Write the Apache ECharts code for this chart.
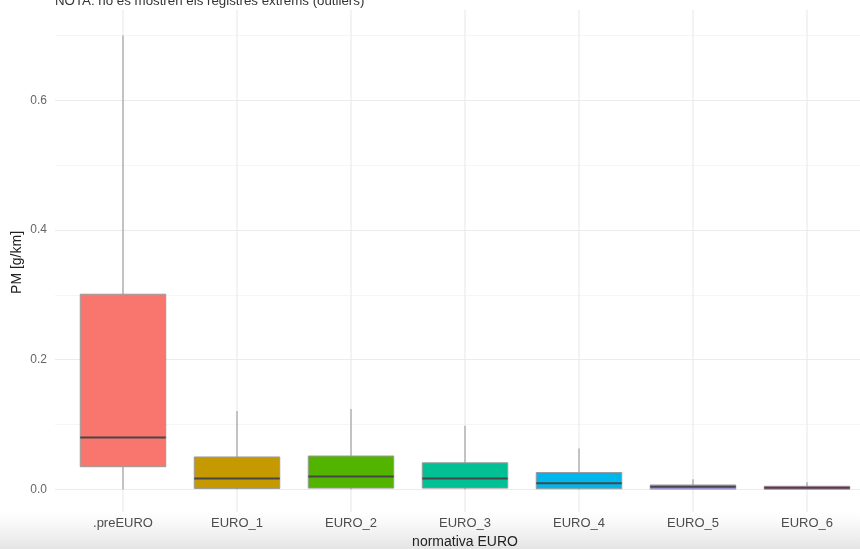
<!DOCTYPE html>
<html>
<head>
<meta charset="utf-8">
<script src="https://cdn.jsdelivr.net/npm/echarts@6/dist/echarts.min.js"></script>
<style>
  html, body { margin: 0; padding: 0; background: #ffffff; }
  #chart { width: 860px; height: 549px; }
</style>
</head>
<body>
<div id="chart"></div>
<script>
// ---- data ----
const categories  = ['.preEURO', 'EURO_1', 'EURO_2', 'EURO_3', 'EURO_4', 'EURO_5', 'EURO_6'];
const whiskerLow  = [0.000, 0.000, 0.000, 0.000, 0.000, 0.000, 0.000];
const q1          = [0.035, 0.0015, 0.002, 0.002, 0.001, 0.0005, 0.0003];
const median      = [0.080, 0.017, 0.020, 0.017, 0.0094, 0.004, 0.0025];
const q3          = [0.301, 0.050, 0.0515, 0.041, 0.026, 0.0068, 0.0048];
const whiskerHigh = [0.700, 0.121, 0.124, 0.098, 0.063, 0.0156, 0.011];
const yTickValues = [0.0, 0.2, 0.4, 0.6];

// ---- styles ----
const palette = ['#F8766D', '#C49A00', '#53B400', '#00C094', '#00B6EB', '#A58AFF', '#FB61D7'];
const FONT = "'Liberation Sans', Arial, sans-serif";

const boxData = categories.map((c, i) => [i, whiskerLow[i], q1[i], median[i], q3[i], whiskerHigh[i]]);

const chart = echarts.init(document.getElementById('chart'), null, { renderer: 'canvas' });

chart.setOption({
  animation: false,
  backgroundColor: '#ffffff',
  textStyle: { fontFamily: FONT },
  title: {
    text: 'NOTA: no es mostren els registres extrems (outliers)',
    left: 55, top: -5, padding: 0,
    textStyle: { fontSize: 13.3, fontWeight: 'normal', color: '#333333', fontFamily: FONT }
  },
  graphic: [{
    type: 'rect', z: -10, silent: true,
    shape: { x: 0, y: 512, width: 860, height: 37 },
    style: {
      fill: new echarts.graphic.LinearGradient(0, 0, 0, 1, [
        { offset: 0, color: 'rgba(235,235,235,0)' },
        { offset: 1, color: 'rgba(228,228,228,1)' }
      ])
    }
  }],
  grid: [
    // panel for horizontal grid lines and y labels
    { left: 55, right: 0, top: -29.4, bottom: 59.6, containLabel: false, outerBoundsMode: 'none' },
    // panel for the boxes (category bands of 114 px)
    { left: 66, width: 798, top: 12.8, bottom: 36.9, containLabel: false, outerBoundsMode: 'none' }
  ],
  xAxis: [
    { gridIndex: 0, type: 'value', show: false, min: 0, max: 1 },
    {
      gridIndex: 1, type: 'category', data: categories,
      axisLine: { show: false }, axisTick: { show: false }, splitLine: { show: false },
      axisLabel: { fontSize: 13, color: '#4d4d4d', margin: 5, fontFamily: FONT },
      name: 'normativa EURO', nameLocation: 'middle', nameGap: 22,
      nameTextStyle: { fontSize: 14, color: '#222222', fontFamily: FONT }
    }
  ],
  yAxis: [
    {
      gridIndex: 0, type: 'value', min: 0, max: 0.8, interval: 0.2,
      axisLine: { show: false }, axisTick: { show: false },
      axisLabel: {
        fontSize: 12, color: '#666666', margin: 8, fontFamily: FONT,
        formatter: v => (yTickValues.some(t => Math.abs(t - v) < 1e-9) ? v.toFixed(1) : '')
      },
      splitLine: { show: true, lineStyle: { color: '#ebebeb', width: 1.2 } },
      minorTick: { show: false, splitNumber: 2 },
      minorSplitLine: { show: true, lineStyle: { color: '#f3f3f3', width: 0.8 } }
    },
    {
      gridIndex: 1, type: 'value', min: -0.035, max: 0.735,
      axisLine: { show: false }, axisTick: { show: false },
      axisLabel: { show: false }, splitLine: { show: false },
      name: 'PM [g/km]', nameLocation: 'middle', nameGap: 41.5, nameRotate: 90,
      nameTextStyle: { fontSize: 14, color: '#222222', fontFamily: FONT }
    }
  ],
  series: [{
    type: 'custom',
    xAxisIndex: 1, yAxisIndex: 1,
    data: boxData,
    encode: { x: 0, y: [1, 2, 3, 4, 5] },
    renderItem: function (params, api) {
      const xi = api.value(0);
      const pLow = api.coord([xi, api.value(1)]);
      const pQ1 = api.coord([xi, api.value(2)]);
      const pMed = api.coord([xi, api.value(3)]);
      const pQ3 = api.coord([xi, api.value(4)]);
      const pHigh = api.coord([xi, api.value(5)]);
      const band = api.size([1, 0])[0];
      const w = band * 0.75;
      const cs = params.coordSys;
      const cx = pMed[0];
      const color = palette[xi % palette.length];
      return {
        type: 'group',
        children: [
          { type: 'line', shape: { x1: cx, y1: cs.y - 3, x2: cx, y2: cs.y + cs.height },
            style: { stroke: '#ebebeb', lineWidth: 1.2 } },
          { type: 'line', shape: { x1: cx, y1: pHigh[1], x2: cx, y2: pQ3[1] },
            style: { stroke: '#999999', lineWidth: 1.1 } },
          { type: 'line', shape: { x1: cx, y1: pQ1[1], x2: cx, y2: pLow[1] },
            style: { stroke: '#999999', lineWidth: 1.1 } },
          { type: 'rect', shape: { x: cx - w / 2, y: pQ3[1], width: w, height: Math.max(pQ1[1] - pQ3[1], 2) },
            style: { fill: color, stroke: '#9a9a9a', lineWidth: 1 } },
          { type: 'line', shape: { x1: cx - w / 2, y1: pMed[1], x2: cx + w / 2, y2: pMed[1] },
            style: { stroke: '#474747', lineWidth: 2 } }
        ]
      };
    }
  }]
});
</script>
</body>
</html>
